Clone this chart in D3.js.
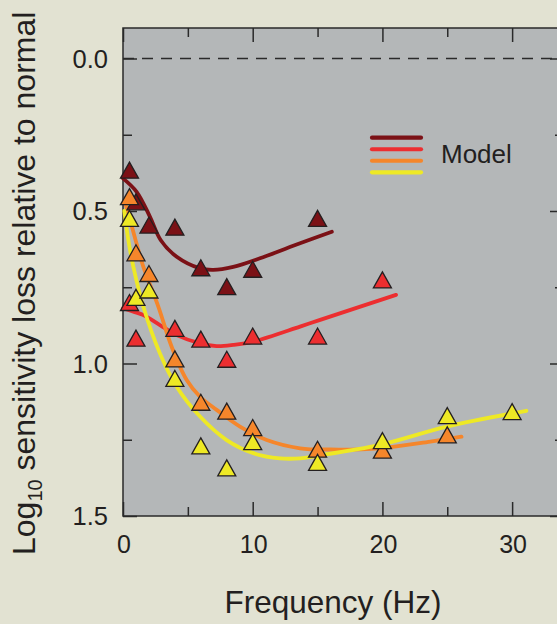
<!DOCTYPE html>
<html>
<head>
<meta charset="utf-8">
<script src="https://cdn.jsdelivr.net/npm/d3@7"></script>
<style>
  html, body { margin: 0; padding: 0; background: #e2e2d2; }
  svg { display: block; }
  text { font-family: "Liberation Sans", Arial, Helvetica, sans-serif; fill: #231f20; }
</style>
</head>
<body>
<svg id="chart" width="557" height="624"></svg>
<script>
// Measured sensitivity loss (log10 units) at each flicker frequency, four groups
const freqDarkRed = [0.5, 1, 2, 4, 6, 8, 10, 15];
const lossDarkRed = [0.366, 0.47, 0.546, 0.553, 0.686, 0.748, 0.691, 0.524];

const freqRed = [0.5, 1, 4, 6, 8, 10, 15, 20];
const lossRed = [0.80, 0.917, 0.885, 0.92, 0.986, 0.91, 0.91, 0.726];

const freqOrange = [0.5, 1, 2, 4, 6, 8, 10, 15, 20, 25];
const lossOrange = [0.453, 0.637, 0.705, 0.985, 1.127, 1.156, 1.21, 1.281, 1.284, 1.234];

const freqYellow = [0.5, 1, 2, 4, 6, 8, 10, 15, 20, 25, 30];
const lossYellow = [0.524, 0.783, 0.759, 1.049, 1.27, 1.342, 1.256, 1.324, 1.253, 1.171, 1.158];

// Model predictions, sampled along each fitted curve
const modelFreqDarkRed = [0, 1.05, 2.08, 2.9, 4.14, 5.94, 6.96, 8.5, 10.56, 13.65, 16.1];
const modelLossDarkRed = [0.393, 0.437, 0.519, 0.595, 0.65, 0.688, 0.693, 0.683, 0.655, 0.606, 0.568];

const modelFreqRed = [0, 0.8, 1.57, 2.85, 4.14, 5.94, 7.22, 8.5, 10.05, 13.65, 15.2, 21.05];
const modelLossRed = [0.819, 0.83, 0.841, 0.874, 0.907, 0.934, 0.943, 0.939, 0.928, 0.879, 0.857, 0.775];

const modelFreqOrange = [0.15, 0.55, 1.0, 1.57, 2.73, 3.75, 4.91, 5.94, 7.22, 9.02, 11.08, 13.65, 16, 19.8, 23.7, 26.1];
const modelLossOrange = [0.47, 0.53, 0.6, 0.683, 0.814, 0.945, 1.054, 1.109, 1.152, 1.207, 1.251, 1.278, 1.282, 1.278, 1.256, 1.24];

const modelFreqYellow = [0.1, 0.41, 0.8, 1.57, 2.85, 4.14, 5.94, 7.99, 10.05, 12.1, 13.65, 14.93, 19.8, 24.96, 31.1];
const modelLossYellow = [0.5, 0.595, 0.683, 0.814, 0.967, 1.076, 1.174, 1.251, 1.294, 1.311, 1.311, 1.303, 1.267, 1.207, 1.155];

// Axis ticks
const xMajorTicks = [0, 10, 20, 30];
const xMinorTicks = [5, 15, 25];
const yMajorTicks = [0, 0.5, 1.0, 1.5];
const yMinorTicks = [0.25, 0.75, 1.25];
const yTickLabels = ["0.0", "0.5", "1.0", "1.5"];

const seriesColors = ["#7b1116", "#ec2e30", "#f5862b", "#eee925"];
const legendLabel = "Model";

const series = [
  { freq: freqDarkRed, loss: lossDarkRed, mf: modelFreqDarkRed, ml: modelLossDarkRed, color: seriesColors[0] },
  { freq: freqRed, loss: lossRed, mf: modelFreqRed, ml: modelLossRed, color: seriesColors[1] },
  { freq: freqOrange, loss: lossOrange, mf: modelFreqOrange, ml: modelLossOrange, color: seriesColors[2] },
  { freq: freqYellow, loss: lossYellow, mf: modelFreqYellow, ml: modelLossYellow, color: seriesColors[3] }
];

const svg = d3.select("#chart");
const plotLeft = 123, plotRight = 564, plotTop = 28, plotBottom = 516;

const x = d3.scaleLinear().domain([0, 34]).range([plotLeft, plotRight]);
const y = d3.scaleLinear().domain([-0.1, 1.5]).range([plotTop, plotBottom]);

// Plot panel
svg.append("rect")
  .attr("x", plotLeft).attr("y", plotTop)
  .attr("width", plotRight - plotLeft).attr("height", plotBottom - plotTop)
  .attr("fill", "#b4b7b8");

// Reference line at zero loss
svg.append("line")
  .attr("x1", plotLeft).attr("x2", plotRight)
  .attr("y1", y(0)).attr("y2", y(0))
  .attr("stroke", "#2a2a2a").attr("stroke-width", 1.5)
  .attr("stroke-dasharray", "11,8");

// Inward-pointing tick marks on all four sides
const axisColor = "#2a2a2a";
function tickAxes(axisGen, transform) {
  const g = svg.append("g").attr("transform", transform).call(axisGen);
  g.select(".domain").remove();
  g.selectAll(".tick line").attr("stroke", axisColor).attr("stroke-width", 1.5);
  g.selectAll(".tick text").remove();
  return g;
}
tickAxes(d3.axisBottom(x).tickValues(xMajorTicks).tickSizeInner(-14), `translate(0,${plotBottom})`);
tickAxes(d3.axisBottom(x).tickValues(xMinorTicks).tickSizeInner(-9), `translate(0,${plotBottom})`);
tickAxes(d3.axisTop(x).tickValues(xMajorTicks).tickSizeInner(-14), `translate(0,${plotTop})`);
tickAxes(d3.axisTop(x).tickValues(xMinorTicks).tickSizeInner(-9), `translate(0,${plotTop})`);
tickAxes(d3.axisLeft(y).tickValues(yMajorTicks).tickSizeInner(-14), `translate(${plotLeft},0)`);
tickAxes(d3.axisLeft(y).tickValues(yMinorTicks).tickSizeInner(-9), `translate(${plotLeft},0)`);
tickAxes(d3.axisRight(y).tickValues(yMajorTicks).tickSizeInner(-14), `translate(${plotRight},0)`);
tickAxes(d3.axisRight(y).tickValues(yMinorTicks).tickSizeInner(-9), `translate(${plotRight},0)`);

// Panel frame
svg.append("rect")
  .attr("x", plotLeft).attr("y", plotTop)
  .attr("width", plotRight - plotLeft).attr("height", plotBottom - plotTop)
  .attr("fill", "none").attr("stroke", axisColor).attr("stroke-width", 1.5);

// Tick labels
svg.append("g").selectAll("text").data(xMajorTicks).join("text")
  .attr("x", d => x(d) + 1).attr("y", 553)
  .attr("text-anchor", "middle").attr("font-size", 25)
  .text(d => d);
svg.append("g").selectAll("text").data(yMajorTicks).join("text")
  .attr("x", 108).attr("y", d => y(d) + 9)
  .attr("text-anchor", "end").attr("font-size", 25.5)
  .text((d, i) => yTickLabels[i]);

// Axis titles
svg.append("text")
  .attr("x", 333).attr("y", 613)
  .attr("text-anchor", "middle").attr("font-size", 31.5)
  .text("Frequency (Hz)");
const yTitle = svg.append("text")
  .attr("transform", "translate(35,555) rotate(-90)")
  .attr("text-anchor", "start").attr("font-size", 32);
yTitle.append("tspan").text("Log");
yTitle.append("tspan").attr("font-size", 20).attr("dy", 7).text("10");
yTitle.append("tspan").attr("dy", -7).text(" sensitivity loss relative to normal");

// Model curves
const line = d3.line().curve(d3.curveCatmullRom.alpha(0.5));
const curves = svg.append("g");
series.forEach(s => {
  curves.append("path")
    .attr("d", line(s.mf.map((f, i) => [x(f), y(s.ml[i])])))
    .attr("fill", "none").attr("stroke", s.color)
    .attr("stroke-width", 3.8).attr("stroke-linecap", "round");
});

// Triangle markers
const tri = "M0,-8L9,8L-9,8Z";
const marks = svg.append("g");
series.forEach(s => {
  marks.append("g").selectAll("path").data(s.freq.map((f, i) => [f, s.loss[i]])).join("path")
    .attr("transform", d => `translate(${x(d[0])},${y(d[1])})`)
    .attr("d", tri)
    .attr("fill", s.color).attr("stroke", "#231f20")
    .attr("stroke-width", 1.3).attr("stroke-linejoin", "miter");
});

// Legend
const legend = svg.append("g");
const legendY = d3.scaleLinear().domain([0, 3]).range([137.7, 172.3]);
seriesColors.forEach((c, i) => {
  legend.append("line")
    .attr("x1", 372).attr("x2", 421)
    .attr("y1", legendY(i)).attr("y2", legendY(i))
    .attr("stroke", c).attr("stroke-width", 4.2).attr("stroke-linecap", "round");
});
legend.append("text")
  .attr("x", 441).attr("y", 162.5)
  .attr("font-size", 26)
  .text(legendLabel);
</script>
</body>
</html>
